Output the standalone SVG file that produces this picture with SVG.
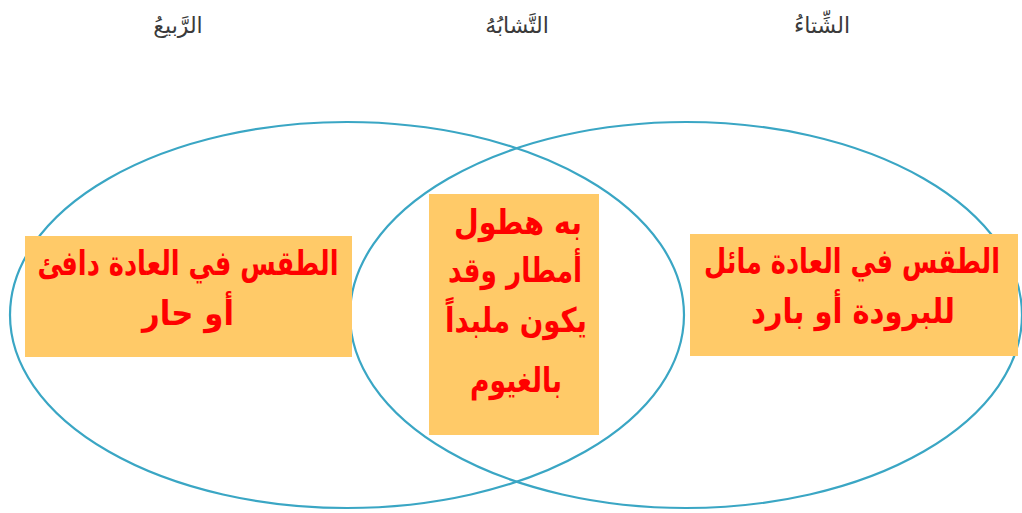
<svg xmlns="http://www.w3.org/2000/svg" width="1022" height="513" viewBox="0 0 1022 513">
<style>
.head{font-family:"DejaVu Sans","Noto Sans",sans-serif;font-size:22px;fill:#3a3a3a;text-anchor:middle;direction:rtl}
.box{fill:#FFCA68}
.t{font-family:"DejaVu Sans","Noto Sans",sans-serif;font-size:34px;font-weight:bold;fill:#FF0000;text-anchor:middle;direction:rtl}
.ring{fill:none;stroke:#3AA6C4;stroke-width:2.2}
</style>
<rect width="1022" height="513" fill="#ffffff"/>
<g id="headings">
<text class="head" x="178" y="33">الرَّبيعُ</text>
<text class="head" x="517" y="33">التَّشابُهُ</text>
<text class="head" x="822" y="33">الشِّتاءُ</text>
</g>
<g id="connectors">
<ellipse class="ring" cx="347" cy="315" rx="337" ry="193"/>
<ellipse class="ring" cx="686" cy="315" rx="336" ry="193"/>
</g>
<g id="spring">
<rect class="box" x="25" y="236" width="327" height="121"/>
<text class="t" x="188" y="275" textLength="301" lengthAdjust="spacingAndGlyphs">الطقس في العادة دافئ</text>
<text class="t" x="188" y="325" textLength="92" lengthAdjust="spacingAndGlyphs">أو حار</text>
</g>
<g id="similarity">
<rect class="box" x="429" y="194" width="170" height="241"/>
<text class="t" x="518" y="234" textLength="128" lengthAdjust="spacingAndGlyphs">به هطول</text>
<text class="t" x="515" y="282" textLength="134" lengthAdjust="spacingAndGlyphs">أمطار وقد</text>
<text class="t" x="516" y="332" textLength="142" lengthAdjust="spacingAndGlyphs">يكون ملبداً</text>
<text class="t" x="516" y="392" textLength="92" lengthAdjust="spacingAndGlyphs">بالغيوم</text>
</g>
<g id="winter">
<rect class="box" x="690" y="234" width="328" height="122"/>
<text class="t" x="852" y="273" textLength="296" lengthAdjust="spacingAndGlyphs">الطقس في العادة مائل</text>
<text class="t" x="853" y="323" textLength="204" lengthAdjust="spacingAndGlyphs">للبرودة أو بارد</text>
</g>
</svg>
